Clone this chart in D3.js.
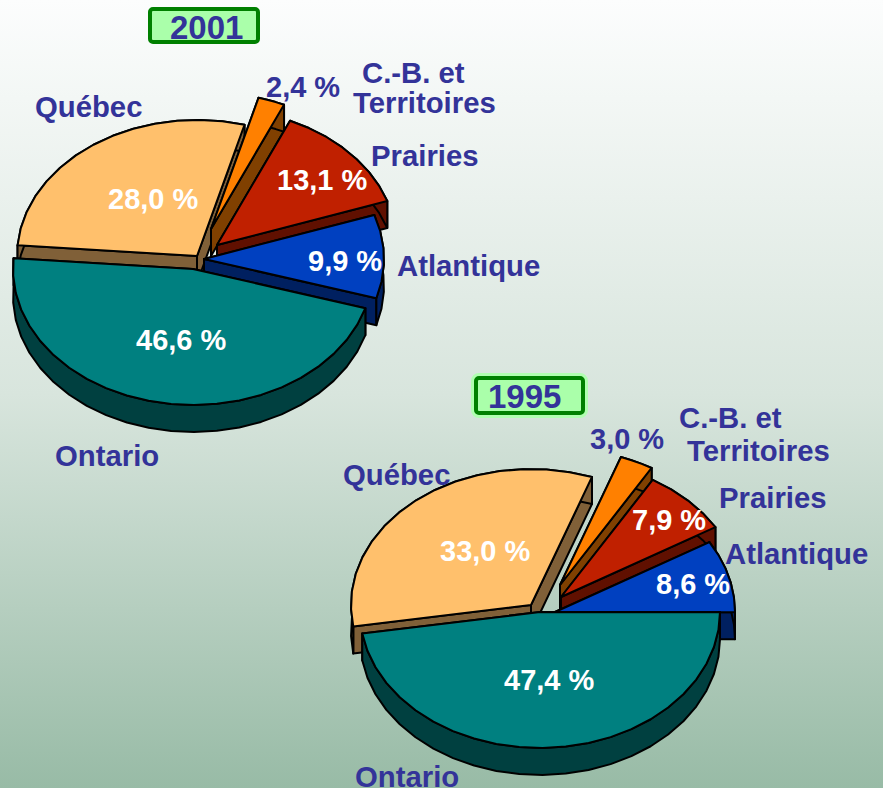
<!DOCTYPE html>
<html><head><meta charset="utf-8">
<script src="https://cdn.jsdelivr.net/npm/d3@7/dist/d3.min.js"></script>
<style>html,body{margin:0;padding:0;background:#fff}svg{display:block}</style>
</head><body><svg id="c" width="883" height="788"></svg>
<script>
// DATA
const categories = ["C.-B. et Territoires","Prairies","Atlantique","Ontario","Québec"];
const values2001 = [2.4,13.1,9.9,46.6,28.0];
const values1995 = [3.0,7.9,8.6,47.4,33.0];
const years = ["2001","1995"];

// STYLE / LAYOUT
const topCol = ["#ff8000","#c02000","#0040c0","#008080","#ffc06c"];
const wallCol = ["#804000","#601000","#002060","#004040","#806038"];
const drawOrder = [4,0,1,2,3];
const INK="#333399";
const charts = [
 {year:years[0],values:values2001,startDeg:15.3,
  apex:[[211,229],[217,245],[204,259],[193,269],[197,256]],
  box:[150,9,108,33],halo:false,yearPos:[170,39],
  pct:[[266,97],[277,190],[308,271],[136,350],[108,209]],
  pctCol:[INK,"#fff","#fff","#fff","#fff"],
  names:[[["C.-B. et",362,83],["Territoires",353,113]],[["Prairies",371,166]],[["Atlantique",397,276]],[["Ontario",55,466]],[["Québec",35,117]]]},
 {year:years[1],values:values1995,startDeg:19.8,
  apex:[[560,585],[561,597],[555,612],[540,612],[531,605]],
  box:[476,378,107,35],halo:true,yearPos:[488,408],
  pct:[[590,449],[632,530],[656,594],[504,690],[440,561]],
  pctCol:[INK,"#fff","#fff","#fff","#fff"],
  names:[[["C.-B. et",679,428],["Territoires",687,461]],[["Prairies",719,508]],[["Atlantique",725,564]],[["Ontario",355,787]],[["Québec",343,485]]]}
];
const RX=180, RY=136, DEPTH=27;

const svg=d3.select("#c");
const defs=svg.append("defs");
const g=defs.append("linearGradient").attr("id","bg").attr("x1",0).attr("x2",0).attr("y1",0).attr("y2",1);
g.append("stop").attr("offset",0).attr("stop-color","#fcfdfd");
g.append("stop").attr("offset",0.5).attr("stop-color","#d8e5dd");
g.append("stop").attr("offset",1).attr("stop-color","#98bba6");
svg.append("rect").attr("width",883).attr("height",788).attr("fill","url(#bg)");

const rad=d3.scaleLinear().domain([0,360]).range([0,2*Math.PI]);
const line=d3.line().curve(d3.curveLinear);
const fontF="'Liberation Sans',Arial,sans-serif";

charts.forEach(ch=>{
  const start=rad(ch.startDeg);
  const arcs=d3.pie().sort(null).startAngle(start).endAngle(start+2*Math.PI)(ch.values);
  drawOrder.forEach(i=>{
    const a=arcs[i],[cx,cy]=ch.apex[i];
    const n=Math.max(3,Math.ceil((a.endAngle-a.startAngle)/0.13));
    const angs=d3.range(n+1).map(k=>a.startAngle+(a.endAngle-a.startAngle)*k/n);
    const rim=angs.map(t=>[cx+RX*Math.sin(t),cy-RY*Math.cos(t)]);
    const down=p=>[p[0],p[1]+DEPTH];
    const G=svg.append("g").attr("stroke","#000").attr("stroke-width",2).attr("stroke-linejoin","round");
    const wall=pts=>G.append("path").attr("d",line(pts)+"Z").attr("fill",wallCol[i]);
    const ap=[cx,cy];
    wall([ap,rim[0],down(rim[0]),down(ap)]);
    wall([ap,rim[n],down(rim[n]),down(ap)]);
    wall(rim.concat(rim.map(down).reverse()));
    G.append("path").attr("d",line([ap,...rim])+"Z").attr("fill",topCol[i]);
  });
  // year box
  const [bx,by,bw,bh]=ch.box;
  if(ch.halo) svg.append("rect").attr("x",bx-3).attr("y",by-3).attr("width",bw+6).attr("height",bh+6)
    .attr("fill","none").attr("stroke","#b0ffb0").attr("stroke-width",4).attr("rx",6);
  svg.append("rect").attr("x",bx).attr("y",by).attr("width",bw).attr("height",bh)
    .attr("fill","#aaffaa").attr("stroke","#008000").attr("stroke-width",4).attr("rx",3);
  svg.append("text").attr("x",ch.yearPos[0]).attr("y",ch.yearPos[1]).text(ch.year)
    .attr("font-family",fontF).attr("font-weight","bold").attr("font-size",33).attr("fill",INK);
  // percentages
  ch.values.forEach((v,i)=>{
    svg.append("text").attr("x",ch.pct[i][0]).attr("y",ch.pct[i][1])
      .text(d3.format(".1f")(v).replace(".",",")+" %")
      .attr("font-family",fontF).attr("font-weight","bold").attr("font-size",29).attr("fill",ch.pctCol[i]);
  });
  // names
  ch.names.forEach(lines=>lines.forEach(([t,x,y])=>{
    svg.append("text").attr("x",x).attr("y",y).text(t)
      .attr("font-family",fontF).attr("font-weight","bold").attr("font-size",29.3).attr("fill",INK);
  }));
});
</script></body></html>
